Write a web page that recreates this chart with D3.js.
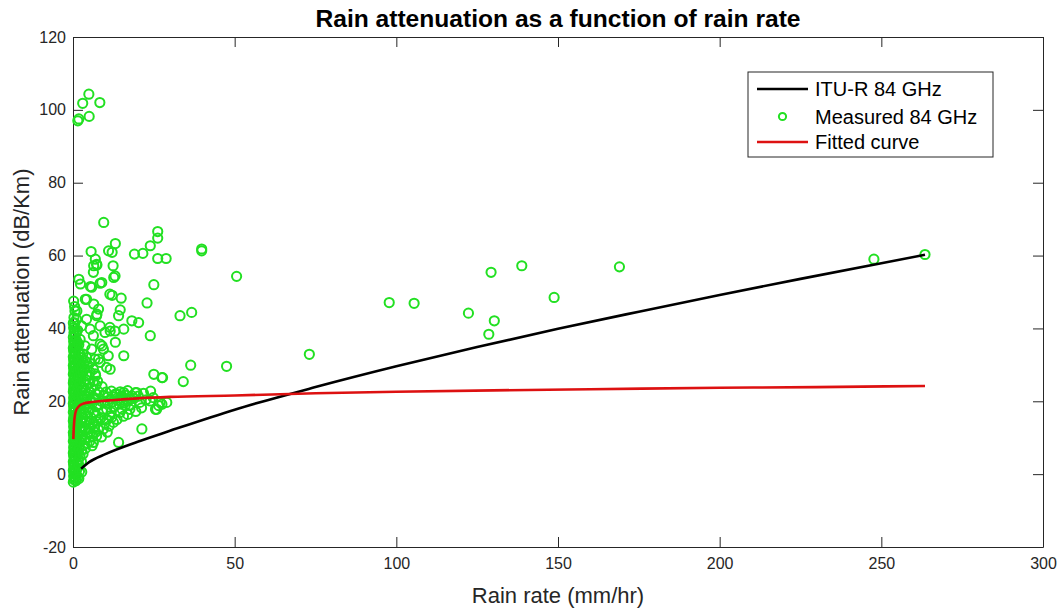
<!DOCTYPE html>
<html>
<head>
<meta charset="utf-8">
<script src="https://cdn.jsdelivr.net/npm/d3@7"></script>
<style>
  body { margin: 0; background: #fff; }
  svg { font-family: "Liberation Sans", Arial, Helvetica, sans-serif; }
  .axis text { font-size: 16px; fill: #262626; }
  .axis line, .axis path { stroke: #262626; }
</style>
</head>
<body>
<div id="chart"></div>
<script>
// ITU-R model curve
const ituRate  = [2.5, 5, 10, 20, 30, 50, 75, 100, 125, 150, 175, 200, 225, 250, 263.5];
const ituAtten = [1.5, 3.3, 5.5, 8.9, 11.9, 17.7, 23.9, 29.6, 34.9, 39.9, 44.6, 49.2, 53.6, 57.9, 60.2];

// fitted curve
const fitRate  = [0.1, 0.2, 0.35, 0.6, 1, 1.5, 2, 3, 5, 8, 12, 20, 30, 50, 75, 100, 130, 160, 200, 230, 263.5];
const fitAtten = [9.6, 12.0, 14.2, 16.2, 17.6, 18.3, 18.8, 19.3, 19.7, 20.0, 20.3, 20.8, 21.2, 21.6, 22.2, 22.6, 23.0, 23.3, 23.7, 23.9, 24.2];

// measured points [rain rate, attenuation]
const measured = [
  // outliers near the top
  [4.9,104.3],[3.0,101.8],[8.3,102],[5.0,98.2],[1.5,97],[1.8,97.5],
  // sparse upper points
  [9.5,69.1],[26.2,66.6],[26.2,64.8],[23.9,62.7],[13.1,63.3],[11.0,61.3],[12.1,60.9],[5.6,61.1],
  [19.0,60.4],[21.6,60.6],[26.2,59.2],[28.8,59.2],[6.9,59],[6.4,57.2],[7.4,57.4],[12.4,57.2],
  [12.6,54],[1.8,53.5],[2.3,52.2],[5.4,51.5],[8.4,52.4],[25,52],[12.1,49.1],[14.9,48.3],
  [22.9,47],[3.8,48],[6.4,46.7],[7.9,45.3],[14.6,45.1],[1.2,44.8],[6.3,55.4],[7.3,57.6],
  [8.9,52.6],[13,54.4],[5.8,51.3],[4.2,48],[11.4,49.4],[0.6,44.8],[1.1,42.5],[2.7,40.7],
  [4.2,42.5],[5.3,39.8],[6.3,38],[7.3,43.5],[8.4,40.7],[9.9,38.9],[11.4,40.3],[13,39.3],
  [2.2,37],[3.7,35.2],[5.8,34.3],[8.4,35.7],[9.4,34.3],[10.9,32.5],[6.8,31.6],[8.4,30.7],
  [10.4,29.3],[6.3,28.8],[7.4,43.9],[14.1,43.5],[18.2,42.1],[20.3,41.6],[11.5,39.3],[15.7,39.8],
  [23.9,38],[13.1,36.2],[9,35.2],[15.7,32.5],[7.9,31.6],[11.5,28.8],[25,27.4],[27.5,26.5],
  // around the fitted curve
  [13.1,22],[15.7,22.4],[19.3,22.4],[17.7,20.6],[15.2,17.8],[23.9,20.1],[26.5,18.8],[27.5,19.2],
  [25.5,17.8],[13.5,22],[15.1,21.5],[16.6,20.6],[18.2,21.5],[19.7,22.4],[16.1,18.8],[14.5,16.9],
  [17.6,17.8],[20.7,19.7],[9.4,21.5],[7.3,18.8],[10.4,17.8],[8.4,15.1],[6.3,14.2],[11.4,16],
  [12.5,14.2],[9.4,12.4],[7.3,10.5],[5.3,11.4],[6.3,8.7],[24.8,21],[26.9,19.7],[25.9,17.8],[29,19.7],
  [21.3,12.4],[14.1,8.7],[5.9,7.8],
  [9.8,19.8],[10.8,21.2],[11.9,22.8],[12.2,19.8],[13.8,20.3],[14.6,22.6],[16.9,22.9],[17.8,19.0],
  [18.9,20.8],[20.2,21.4],[21.8,22.2],[22.6,20.4],[24.0,22.8],[21.2,18.2],[19.4,17.2],
  [9.9,14.0],[11.2,13.2],[12.0,15.6],[13.6,15.0],[15.6,15.9],[16.9,16.4],[10.6,11.5],[8.8,10.2],
  // further right
  [39.8,61.8],[39.8,61.3],[50.6,54.3],[33.1,43.5],[36.7,44.4],[36.4,29.9],[47.5,29.6],[27.7,26.5],
  [34.1,25.4],[73.1,32.9],[97.8,47.1],[105.5,46.9],[122.3,44.2],[129.3,55.4],[138.8,57.2],
  [148.8,48.5],[130.3,42.1],[128.6,38.4],[169,56.9],[247.7,59.0],[263.5,60.3],
  // dense cluster at low rain rate
  [0.1,-2.2],[0.3,-1.5],[0.2,-0.5],[0.4,0.3],[0.1,1.0],[0.3,1.8],[0.2,2.6],[0.1,3.4],[0.4,4.2],
  [0.2,5.0],[0.1,5.8],[0.3,6.6],[0.2,7.4],[0.4,8.2],[0.1,9.0],[0.3,9.8],[0.2,10.6],[0.1,11.4],
  [0.4,12.2],[0.2,13.0],[0.3,13.8],[0.1,14.6],[0.2,15.4],[0.4,16.2],[0.1,17.0],[0.3,17.8],
  [0.2,18.6],[0.1,19.4],[0.3,20.2],[0.2,21.0],[0.4,21.8],[0.1,22.6],[0.2,23.4],[0.3,24.2],
  [0.1,25.0],[0.2,25.8],[0.4,26.6],[0.1,27.4],[0.3,28.2],[0.2,29.0],[0.1,29.8],[0.3,30.6],
  [0.2,31.4],[0.1,32.2],[0.4,33.0],[0.2,33.8],[0.1,34.6],[0.3,35.5],[0.2,36.5],[0.1,37.6],
  [0.3,38.8],[0.2,40.2],[0.1,41.5],[0.3,43.0],
  [0.55,-1.0],[0.6,0.7],[0.5,2.4],[0.6,4.1],[0.55,5.8],[0.5,7.5],[0.6,9.2],[0.55,10.9],[0.5,12.6],
  [0.6,14.3],[0.55,16.0],[0.5,17.7],[0.6,19.4],[0.55,21.1],[0.5,22.8],[0.6,24.5],[0.55,26.2],
  [0.5,27.9],[0.6,29.6],[0.55,31.3],[0.5,33.0],[0.6,34.7],[0.55,36.4],[0.5,38.1],[0.6,39.8],
  [0.55,41.5],[0.5,46.0],[0.2,47.5],
  [0.9,-1.8],[1.1,-0.2],[0.8,1.4],[1.2,3.0],[0.9,4.6],[1.0,6.2],[1.3,7.8],[0.8,9.4],[1.1,11.0],
  [0.9,12.6],[1.2,14.2],[1.0,15.8],[0.8,17.4],[1.3,19.0],[1.0,20.6],[0.9,22.2],[1.2,23.8],
  [0.8,25.4],[1.1,27.0],[1.0,28.6],[0.9,30.2],[1.2,31.8],[0.8,33.4],[1.1,35.0],[1.0,36.8],[0.9,38.6],
  [1.5,-0.8],[1.4,1.6],[1.6,4.0],[1.5,6.4],[1.4,8.8],[1.6,11.2],[1.5,13.6],[1.4,16.0],[1.6,18.4],
  [1.5,21.2],[1.4,23.6],[1.6,26.0],[1.5,28.4],[1.4,30.8],[1.6,33.2],[1.5,36.0],[1.4,39.5],
  [2.0,0.8],[1.7,2.8],[2.2,4.8],[1.9,6.8],[2.3,8.8],[1.8,10.8],[2.1,12.8],[2.4,14.8],[1.9,16.8],
  [2.2,18.8],[1.7,20.8],[2.3,22.8],[2.0,24.8],[1.8,26.8],[2.2,28.8],[1.9,30.8],[2.1,33.0],[1.8,35.5],
  [2.7,0.6],[1.8,-1.2],
  [2.6,3.5],[2.7,6.5],[2.5,9.5],[2.6,12.0],[2.8,14.0],[2.6,16.5],[2.5,19.5],[2.7,21.5],[2.6,24.0],
  [2.5,27.0],[2.7,29.5],[2.6,32.0],
  [3.1,5.5],[3.4,8.0],[2.9,10.5],[3.3,13.0],[3.0,15.5],[3.5,18.0],[3.2,20.5],[2.9,23.0],[3.4,25.5],
  [3.1,28.0],[3.3,30.5],[3.0,33.0],
  [3.8,7],[3.9,10],[3.7,12.5],[3.8,16.5],[3.9,19],[3.7,21.5],[3.8,23],[3.9,26],[3.7,29],[3.8,31],
  [4.3,8.5],[4.7,11.5],[4.2,14.5],[4.8,17.0],[4.4,19.5],[4.6,22.0],[4.1,24.5],[4.9,27.0],[4.5,29.5],[4.2,32.0],
  [5.2,9],[5.3,12.5],[5.1,14],[5.2,18],[5.3,20.5],[5.1,22.5],[5.2,25],[5.3,28],[5.2,30.5],
  [5.8,10.5],[6.5,13.0],[5.6,15.5],[6.8,17.0],[6.0,19.5],[6.6,21.0],[5.7,23.5],[6.3,25.5],[6.9,27.5],
  [7.0,11.5],[7.2,14.5],[7.1,16],[7.0,20.5],[7.2,22],[7.1,24.5],[7.0,27],
  [7.8,12.5],[8.6,15.5],[9.2,17.0],[7.9,19.0],[8.8,20.0],[8.1,22.5],[9.0,24.0],[7.6,25.5],
  [10.5,15.0],[11.8,17.0],[12.6,18.5],[10.8,19.5],[11.6,20.6],[12.9,21.2],[10.2,22.5],
  [14.2,19.2],[15.8,19.6],[14.8,20.8],[16.4,21.6],[17.1,20.1]
];

const xTicks = [0, 50, 100, 150, 200, 250, 300];
const yTicks = [-20, 0, 20, 40, 60, 80, 100, 120];
const legendLabels = ["ITU-R 84 GHz", "Measured 84 GHz", "Fitted curve"];

const width = 1061, height = 611;
const plotLeft = 73, plotRight = 1043, plotTop = 37, plotBottom = 547;
const green = "#22e022";

const svg = d3.select("#chart").append("svg")
  .attr("width", width)
  .attr("height", height);

const x = d3.scaleLinear().domain([0, 300]).range([plotLeft, plotRight]);
const y = d3.scaleLinear().domain([-20, 120]).range([plotBottom, plotTop]);

// axes (ticks point inward, box on all sides)
svg.append("g").attr("class", "axis")
  .attr("transform", "translate(0," + plotBottom + ")")
  .call(d3.axisBottom(x).tickValues(xTicks).tickSizeInner(-10).tickSizeOuter(0).tickPadding(11)
    .tickFormat(d => String(d)));
svg.append("g").attr("class", "axis")
  .attr("transform", "translate(0," + plotTop + ")")
  .call(d3.axisTop(x).tickValues(xTicks).tickSizeInner(-10).tickSizeOuter(0).tickFormat(""));
svg.append("g").attr("class", "axis")
  .attr("transform", "translate(" + plotLeft + ",0)")
  .call(d3.axisLeft(y).tickValues(yTicks).tickSizeInner(-10).tickSizeOuter(0).tickPadding(7)
    .tickFormat(d => String(d)));
svg.append("g").attr("class", "axis")
  .attr("transform", "translate(" + plotRight + ",0)")
  .call(d3.axisRight(y).tickValues(yTicks).tickSizeInner(-10).tickSizeOuter(0).tickFormat(""));

// scatter
svg.append("g")
  .selectAll("circle")
  .data(measured)
  .join("circle")
  .attr("cx", d => x(d[0]))
  .attr("cy", d => y(d[1]))
  .attr("r", 4.6)
  .attr("fill", "none")
  .attr("stroke", green)
  .attr("stroke-width", 2);

const line = d3.line().curve(d3.curveMonotoneX);

svg.append("path")
  .datum(ituRate.map((r, i) => [x(r), y(ituAtten[i])]))
  .attr("fill", "none")
  .attr("stroke", "#000")
  .attr("stroke-width", 2.6)
  .attr("d", line);

svg.append("path")
  .datum(fitRate.map((r, i) => [x(r), y(fitAtten[i])]))
  .attr("fill", "none")
  .attr("stroke", "#dd1111")
  .attr("stroke-width", 2.6)
  .attr("d", line);

// title and labels
svg.append("text")
  .attr("x", 558).attr("y", 27)
  .attr("text-anchor", "middle")
  .style("font-size", "24.6px").style("font-weight", "bold").style("fill", "#000")
  .text("Rain attenuation as a function of rain rate");

svg.append("text")
  .attr("x", 558).attr("y", 603)
  .attr("text-anchor", "middle")
  .style("font-size", "22px").style("fill", "#262626")
  .text("Rain rate (mm/hr)");

svg.append("text")
  .attr("transform", "translate(29,292) rotate(-90)")
  .attr("text-anchor", "middle")
  .style("font-size", "22px").style("fill", "#262626")
  .text("Rain attenuation (dB/Km)");

// legend
const lg = svg.append("g").attr("transform", "translate(748,72)");
lg.append("rect")
  .attr("width", 245).attr("height", 85)
  .attr("fill", "#fff").attr("stroke", "#262626").attr("stroke-width", 1);

const rowY = [17, 44.5, 70];
lg.append("line").attr("x1", 9).attr("x2", 60).attr("y1", rowY[0]).attr("y2", rowY[0])
  .attr("stroke", "#000").attr("stroke-width", 2.6);
lg.append("circle").attr("cx", 34.5).attr("cy", rowY[1]).attr("r", 3.6)
  .attr("fill", "none").attr("stroke", green).attr("stroke-width", 2);
lg.append("line").attr("x1", 9).attr("x2", 60).attr("y1", rowY[2]).attr("y2", rowY[2])
  .attr("stroke", "#dd1111").attr("stroke-width", 2.6);

lg.selectAll("text.lab")
  .data(legendLabels)
  .join("text")
  .attr("class", "lab")
  .attr("x", 67)
  .attr("y", (d, i) => rowY[i])
  .attr("dy", "0.36em")
  .style("font-size", "20px").style("fill", "#000")
  .text(d => d);
</script>
</body>
</html>
